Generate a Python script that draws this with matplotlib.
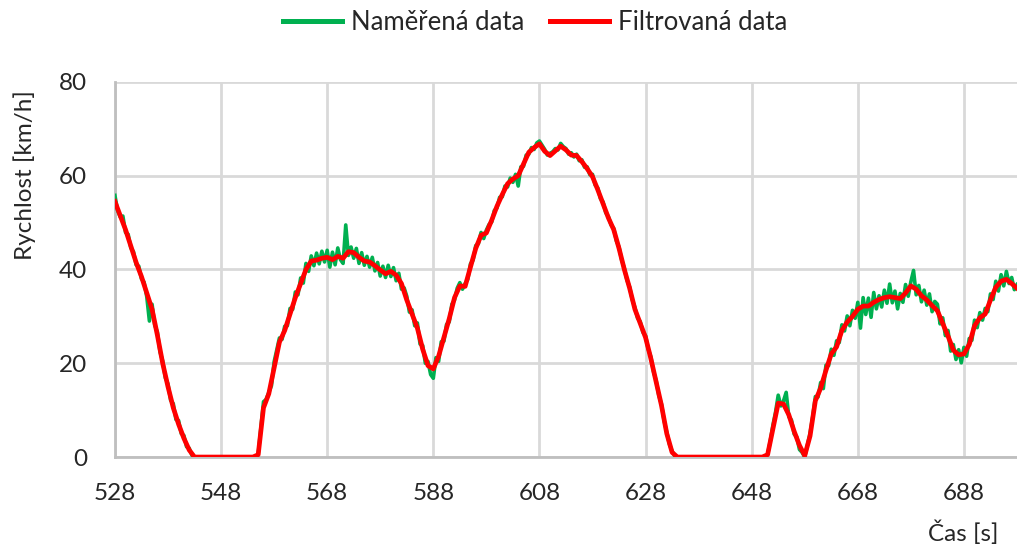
import numpy as np
import matplotlib
matplotlib.use("Agg")
import matplotlib.pyplot as plt

plt.rcParams['font.family'] = ['Lato', 'DejaVu Sans']

# filtered speed, one value per second from 528 s to 698 s
t_filt = np.arange(528, 699, 1.0)
v_filt = [
    54.5, 51.5, 48.5, 45, 41.5, 38.5, 35, 31.5, 26, 20,
    15, 10.5, 7, 4, 1.5, 0,
    0, 0, 0, 0, 0, 0, 0, 0, 0, 0, 0,
    0.5, 10.5, 13.5, 19, 24.5, 27, 30.5, 34, 37, 40,
    41.8, 42, 42.4, 42.6, 42.1, 42.8, 42.4, 43.8, 43.6, 42.6,
    41.8, 41.6, 40.8, 39.9, 39.1, 39.6, 38.8, 37, 33.5, 30.5,
    27.5, 23, 19.5, 18.8, 21.5, 25.5, 29.5, 34, 36.5, 36.4,
    40.5, 44.5, 47.3, 47.8, 50.5, 53.5, 56, 58.3, 59.3, 60,
    62.5, 65, 66, 66.8, 65.2, 64.3, 65.3, 66.3, 65.5, 64.4,
    64.3, 63, 61.5, 59.8, 57, 54, 51, 48.5, 44.5, 40,
    36, 31.5, 28.5, 25.5, 21, 16, 11, 5, 1,
    0, 0, 0, 0, 0, 0, 0, 0, 0, 0, 0, 0, 0, 0, 0, 0, 0,
    0.5, 6, 11.5, 11.3, 9, 5.5, 2.5, 0.3, 4.5, 12,
    14.7, 18.5, 22, 23.5, 27, 28.8, 30, 31.5, 32.2, 32.2,
    33, 33.6, 34, 34.2, 34, 33.8, 35, 36.5, 35.8, 34.4,
    33.5, 32.3, 31.2, 28.5, 25.8, 22.8, 21.8, 22, 24, 28,
    29.7, 30.5, 33.5, 36.2, 37.5, 37.9, 37, 36,
]

# measured speed, sampled every 0.5 s
t_meas = np.arange(528, 698.25, 0.5)
v_meas = [
    55.8, 52.6, 51.2, 51.4, 47.9, 47.5, 44.6, 43.8, 41.0, 40.7,
    38.0, 37.3, 34.2, 29.0, 32.6, 28.1, 26.7, 22.4, 20.5, 16.9,
    15.6, 12.1, 11.4, 8.0, 7.8, 5.0, 4.6, 2.2, 1.9, 0.4,
    0, 0, 0, 0, 0, 0, 0, 0, 0, 0,
    0, 0, 0, 0, 0, 0, 0, 0, 0, 0,
    0, 0, 0, 0, 0.6, 6.2, 11.8, 12.3, 13.8, 15.2,
    20.3, 22.8, 25.4, 25.1, 27.9, 28.0, 31.7, 31.5, 35.2, 34.6,
    38.2, 37.1, 41.3, 39.6, 42.9, 40.8, 43.5, 41.2, 43.9, 41.6,
    44.1, 40.5, 43.7, 41.0, 44.6, 42.1, 41.3, 49.5, 43.0, 44.8,
    42.4, 44.5, 41.3, 43.6, 40.9, 42.8, 40.5, 42.6, 39.7, 41.5,
    38.6, 40.7, 38.3, 40.9, 38.5, 40.4, 37.6, 39.2, 35.8, 36.1,
    34.3, 30.9, 31.4, 28.0, 28.6, 24.1, 23.8, 20.0, 20.4, 17.6,
    16.8, 21.2, 20.4, 24.6, 24.7, 28.3, 28.8, 32.6, 33.5, 36.0,
    37.2, 35.8, 37.0, 37.9, 41.2, 42.0, 45.1, 45.5, 47.9, 46.6,
    48.4, 49.6, 50.1, 52.6, 53.1, 55.4, 55.5, 57.8, 57.6, 59.5,
    58.6, 60.3, 57.8, 61.9, 62.0, 64.4, 64.6, 66.0, 65.6, 67.0,
    67.4, 66.5, 65.6, 64.4, 64.8, 65.1, 65.8, 65.5, 66.9, 66.2,
    65.8, 64.6, 64.9, 64.0, 64.6, 63.2, 63.4, 61.8, 61.9, 60.2,
    60.3, 58.0, 57.4, 55.1, 54.4, 52.1, 51.3, 49.5, 48.8, 46.1,
    44.8, 42.0, 40.3, 37.7, 36.3, 33.5, 31.9, 29.6, 28.9, 26.6,
    25.9, 23.0, 21.4, 18.2, 16.3, 13.1, 11.3, 7.7, 5.3, 2.7,
    1.3, 0.2, 0, 0, 0, 0, 0, 0, 0, 0,
    0, 0, 0, 0, 0, 0, 0, 0, 0, 0,
    0, 0, 0, 0, 0, 0, 0, 0, 0, 0,
    0, 0, 0, 0, 0, 0, 0.6, 3.4, 6.8, 9.6,
    13.2, 10.9, 12.0, 13.8, 8.6, 7.9, 4.9, 4.3, 1.6, 1.0,
    0.0, 2.6, 5.1, 8.6, 12.9, 12.8, 15.9, 14.6, 19.6, 19.5,
    23.0, 21.7, 24.8, 24.4, 28.2, 26.9, 30.1, 28.0, 31.3, 29.6,
    33.0, 27.5, 34.0, 30.4, 33.9, 29.8, 35.1, 31.6, 34.4, 32.0,
    35.6, 32.8, 36.9, 32.9, 35.4, 31.6, 34.9, 33.0, 36.8, 34.3,
    37.4, 39.8, 34.6, 36.6, 33.1, 35.6, 32.4, 34.8, 31.0, 33.2,
    32.6, 28.4, 29.7, 25.9, 27.0, 22.6, 24.0, 20.8, 22.9, 20.1,
    23.4, 21.5, 25.3, 24.9, 29.2, 27.6, 30.8, 29.2, 31.7, 31.0,
    34.8, 33.6, 37.5, 35.4, 38.9, 36.5, 39.6, 37.0, 38.3, 35.7,
    36.8,
]

x_ticks = [528, 548, 568, 588, 608, 628, 648, 668, 688]
y_ticks = [0, 20, 40, 60, 80]

fig = plt.figure(figsize=(10.17, 5.5), dpi=100)
ax = fig.add_axes([0.113, 0.169, 0.887, 0.682])

ax.plot(t_meas, v_meas, color='#00B050', lw=2.6, label='Naměřená data',
        solid_joinstyle='round', zorder=3)
ax.plot(t_filt, v_filt, color='#FF0000', lw=3.4, label='Filtrovaná data',
        solid_joinstyle='round', zorder=4)

ax.set_xlim(528, 698)
ax.set_ylim(0, 80)
ax.set_xticks(x_ticks)
ax.set_yticks(y_ticks)
ax.grid(True, color='#d9d9d9', lw=2)
ax.set_axisbelow(True)
for s in ['top', 'right']:
    ax.spines[s].set_visible(False)
for s in ['left', 'bottom']:
    ax.spines[s].set_color('#bfbfbf')
    ax.spines[s].set_linewidth(2)
ax.tick_params(length=0, labelsize=17.5, colors='#262626')
ax.tick_params(axis='x', pad=19)
ax.tick_params(axis='y', pad=20)

fig.text(25 / 1017, 1 - 175 / 550, 'Rychlost [km/h]', rotation=90,
         ha='center', va='center', fontsize=17.5, color='#262626')
fig.text(963 / 1017, 1 - 533 / 550, 'Čas [s]',
         ha='center', va='center', fontsize=17.5, color='#262626')

leg = fig.legend(loc='center', bbox_to_anchor=(535 / 1017, 1 - 22 / 550), ncol=2,
                 frameon=False, fontsize=18.5, handlelength=2.3, handletextpad=0.35,
                 columnspacing=1.0, labelcolor='#262626')
for h in leg.get_lines():
    h.set_linewidth(3.6)

fig.savefig('out.png', dpi=100)
